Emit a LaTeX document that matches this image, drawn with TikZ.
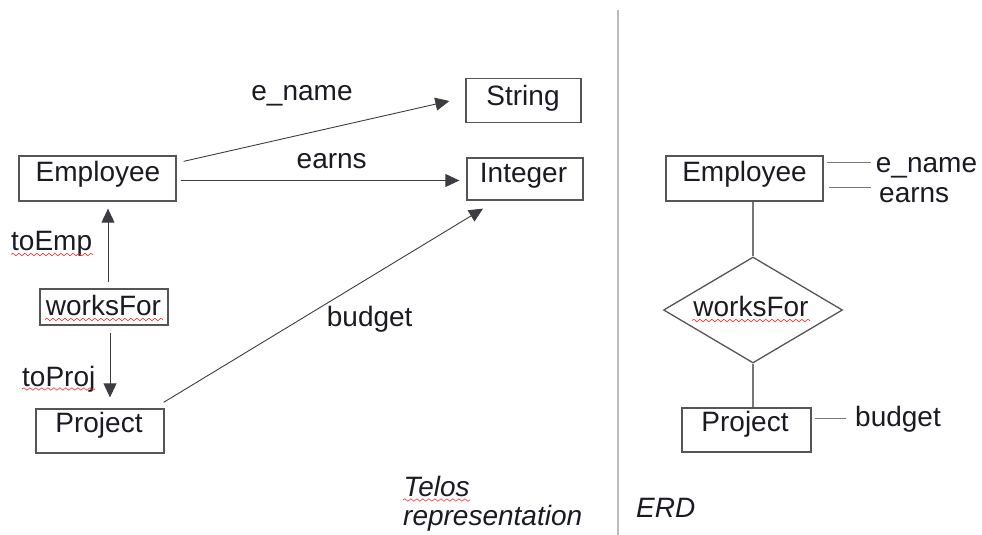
\documentclass[tikz,border=0pt]{standalone}
\usepackage{fontspec}
\setmainfont{Liberation Sans}
\usetikzlibrary{arrows.meta,calc,shapes.geometric,decorations.pathmorphing}
\definecolor{ink}{HTML}{1A1A22}
\definecolor{frame}{HTML}{555555}
\definecolor{wire}{HTML}{777777}
\definecolor{divider}{HTML}{BBBBBB}
\tikzset{
  box/.style={draw=frame, line width=1.3pt, inner sep=0pt},
  txt/.style={text=ink, inner sep=0pt, font=\fontsize{28}{32}\selectfont},
  itxt/.style={txt, font=\fontsize{28}{32}\selectfont\itshape},
  arr/.style={draw=ink!85, line width=0.9pt, -{Triangle[length=14pt,width=13pt]}},
  link/.style={draw=wire, line width=1.1pt},
  squig/.style={draw=red!85, line width=0.6pt,
    decorate, decoration={snake, segment length=6pt, amplitude=1.2pt}},
}
\begin{document}
\begin{tikzpicture}[x=1pt,y=-1pt]
\useasboundingbox (0,0) rectangle (982,535);

% ---------------- Telos representation ----------------
\node[box, minimum width=157pt, minimum height=45pt] (emp) at (97.5,178.5) {};
\node[box, minimum width=128pt, minimum height=36pt] (wf)  at (104,307) {};
\node[box, minimum width=128pt, minimum height=44pt] (pj)  at (100,431) {};
\node[box, minimum width=115pt, minimum height=44pt] (str) at (523.5,100.5) {};
\node[box, minimum width=116pt, minimum height=42pt] (int) at (525,179) {};

\node[txt, anchor=base] (tEmp) at (98,181) {Employee};
\node[txt, anchor=base] (tWf)  at (103.5,315) {worksFor};
\node[txt, anchor=base] (tPj)  at (99,432) {Project};
\node[txt, anchor=base] (tStr) at (523,105) {String};
\node[txt, anchor=base] (tInt) at (523.5,182) {Integer};

% attribute and link labels
\node[txt, anchor=base] (lEname)  at (302,100.5) {e\_name};
\node[txt, anchor=base] (lEarns)  at (331.7,168.3) {earns};
\node[txt, anchor=base west] (lBudget) at (326.7,326) {budget};
\node[txt, anchor=base west] (lToEmp)  at (11,250) {toEmp};
\node[txt, anchor=base west] (lToProj) at (22,386) {toProj};

% arrows
\draw[arr] ($(wf.north)+(4,-6)$) -- ($(emp.south)+(10.5,7)$);
\draw[arr] ($(wf.south)+(6,7)$) -- ($(pj.north)+(10,-11)$);
\draw[arr] ($(emp.north east)+(7,6)$) -- ($(str.west)+(-16,0.5)$);
\draw[arr] ($(emp.east)+(4,2)$) -- ($(int.west)+(-7,1.5)$);
\draw[arr] ($(pj.north east)+(-1,-6)$) -- ($(int.south)+(-42,8)$);

% caption
\node[itxt, anchor=base west] (cap1) at (403.5,496) {Telos};
\node[itxt, anchor=base west] (cap2) at (403,525) {representation};

% spell-check marks
\draw[squig] (11,254.5) -- (93,254.5);
\draw[squig] (45,319.5) -- (163,319.5);
\draw[squig] (22,389) -- (95,389);
\draw[squig] (403,500) -- (470,500);

% ---------------- divider ----------------
\coordinate (dTop) at (617.7,10);
\coordinate (dBot) at (617.7,535);
\draw[draw=divider, line width=2pt] (dTop) -- (dBot);

% ---------------- ERD ----------------
\node[box, minimum width=157pt, minimum height=45pt] (ee) at (744.5,178.5) {};
\node[diamond, draw=frame, line width=1.3pt, inner sep=0pt,
      minimum width=179pt, minimum height=106pt] (dia) at (753,310) {};
\node[box, minimum width=129pt, minimum height=44pt] (pe) at (746.5,430) {};

\node[txt, anchor=base] (tEe)  at (744.5,181.7) {Employee};
\node[txt, anchor=base] (tDia) at (751,316.7) {worksFor};
\node[txt, anchor=base] (tPe)  at (745,431.7) {Project};

\node[txt, anchor=base west] (aEname)  at (875.7,172) {e\_name};
\node[txt, anchor=base west] (aEarns)  at (879,202) {earns};
\node[txt, anchor=base west] (aBudget) at (855,426.7) {budget};

\draw[link] ($(ee.north east)+(3,7.3)$) -- ($(aEname.west |- ee.north east)+(-5,7.3)$);
\draw[link] ($(ee.north east)+(5,31.7)$) -- ($(aEname.west |- ee.north east)+(-5,31.7)$);
\draw[link] (ee.south -| dia.north) -- (dia.north);
\draw[link] (dia.south) -- (dia.south |- pe.north);
\draw[link] ($(pe.north east)+(3,11)$) -- ($(aBudget.west |- pe.north east)+(-9,11)$);

\draw[squig] (692,320.5) -- (810,320.5);

\node[itxt, anchor=base west] (erd) at (636,517.3) {ERD};
\end{tikzpicture}
\end{document}
